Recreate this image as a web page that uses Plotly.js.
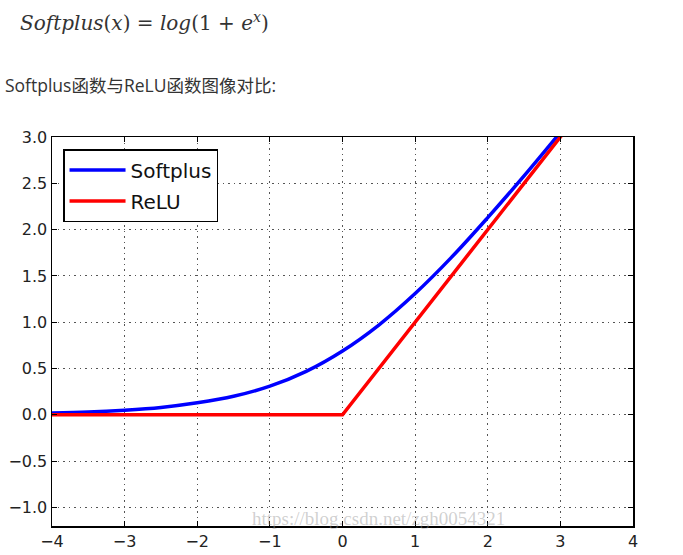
<!DOCTYPE html>
<html>
<head>
<meta charset="utf-8">
<script src="https://cdn.plot.ly/plotly-3.0.1.min.js"></script>
<style>html,body{margin:0;padding:0;background:#fff;}#chart{width:683px;height:555px;}</style>
</head>
<body>
<div id="chart"></div>
<script>
// Data
const xSoft = [-4, -3.5, -3, -2.5, -2, -1.5, -1, -0.5, 0, 0.5, 1, 1.5, 2, 2.5, 3, 3.5, 4];
const ySoft = [0.02, 0.03, 0.05, 0.08, 0.13, 0.20, 0.31, 0.47, 0.69, 0.97, 1.31, 1.70, 2.13, 2.58, 3.05, 3.53, 4.02];
const xRelu = [-4, 0, 4];
const yRelu = [0, 0, 4];
const seriesNames = ['Softplus', 'ReLU'];
const xTicks = [-4, -3, -2, -1, 0, 1, 2, 3, 4];
const yTicks = [-1.0, -0.5, 0.0, 0.5, 1.0, 1.5, 2.0, 2.5, 3.0];

const traces = [
  {x: xSoft, y: ySoft, name: seriesNames[0], legendgroup: 'a', mode: 'lines', line: {color: '#0000ff', width: 3.5, shape: 'spline'}},
  {x: xRelu, y: yRelu, name: seriesNames[1], legendgroup: 'b', mode: 'lines', line: {color: '#ff0000', width: 3.5}}
];

const axisCommon = {
  showline: true, linecolor: '#000', linewidth: 1.5, mirror: 'ticks',
  ticks: 'inside', ticklen: 5, tickwidth: 1, tickcolor: '#000',
  showgrid: true, gridcolor: '#555', gridwidth: 1, griddash: '1.5px,4px',
  zeroline: false, tickfont: {family: 'DejaVu Sans', size: 16, color: '#222'}
};

const layout = {
  width: 683, height: 555,
  margin: {l: 52, r: 50, t: 137, b: 29, pad: 0},
  paper_bgcolor: '#fff', plot_bgcolor: '#fff',
  showlegend: true,
  legend: {x: 0.019, y: 0.969, xanchor: 'left', yanchor: 'top', bgcolor: '#fff', bordercolor: '#000', borderwidth: 1.5,
           itemwidth: 56, tracegroupgap: 2,
           font: {family: 'DejaVu Sans', size: 20, color: '#111'}},
  xaxis: Object.assign({}, axisCommon, {range: [-4, 4], tickvals: xTicks, ticktext: xTicks.map(v => v < 0 ? '\u2212' + Math.abs(v) : String(v))}),
  yaxis: Object.assign({}, axisCommon, {range: [-1.2, 3.0], tickvals: yTicks, ticktext: yTicks.map(v => (v < 0 ? '\u2212' : '') + Math.abs(v).toFixed(1))})
};
layout.annotations = [
  {xref: 'paper', yref: 'paper', x: (18 - 52) / 581, y: (526 - 22) / 389, xanchor: 'left', yanchor: 'middle', showarrow: false,
   text: '<i>Softplus</i>(<i>x</i>) = <i>log</i>(1 + <i>e<sup>x</sup></i>)', font: {family: 'DejaVu Serif', size: 20, color: '#333'}},
  {xref: 'paper', yref: 'paper', x: (3 - 52) / 581, y: (526 - 85) / 389, xanchor: 'left', yanchor: 'middle', showarrow: false,
   text: 'Softplus函数与ReLU函数图像对比:', font: {family: 'Open Sans, Noto Sans CJK SC', size: 17.5, color: '#333'}},
  {xref: 'paper', yref: 'paper', x: (250 - 52) / 581, y: (526 - 518) / 389, xanchor: 'left', yanchor: 'middle', showarrow: false,
   text: 'https://blog.csdn.net/zgh0054321', font: {family: 'Liberation Serif', size: 19, color: 'rgba(150,150,150,0.45)'}}
];

Plotly.newPlot('chart', traces, layout, {displayModeBar: false, staticPlot: true});
</script>
</body>
</html>
